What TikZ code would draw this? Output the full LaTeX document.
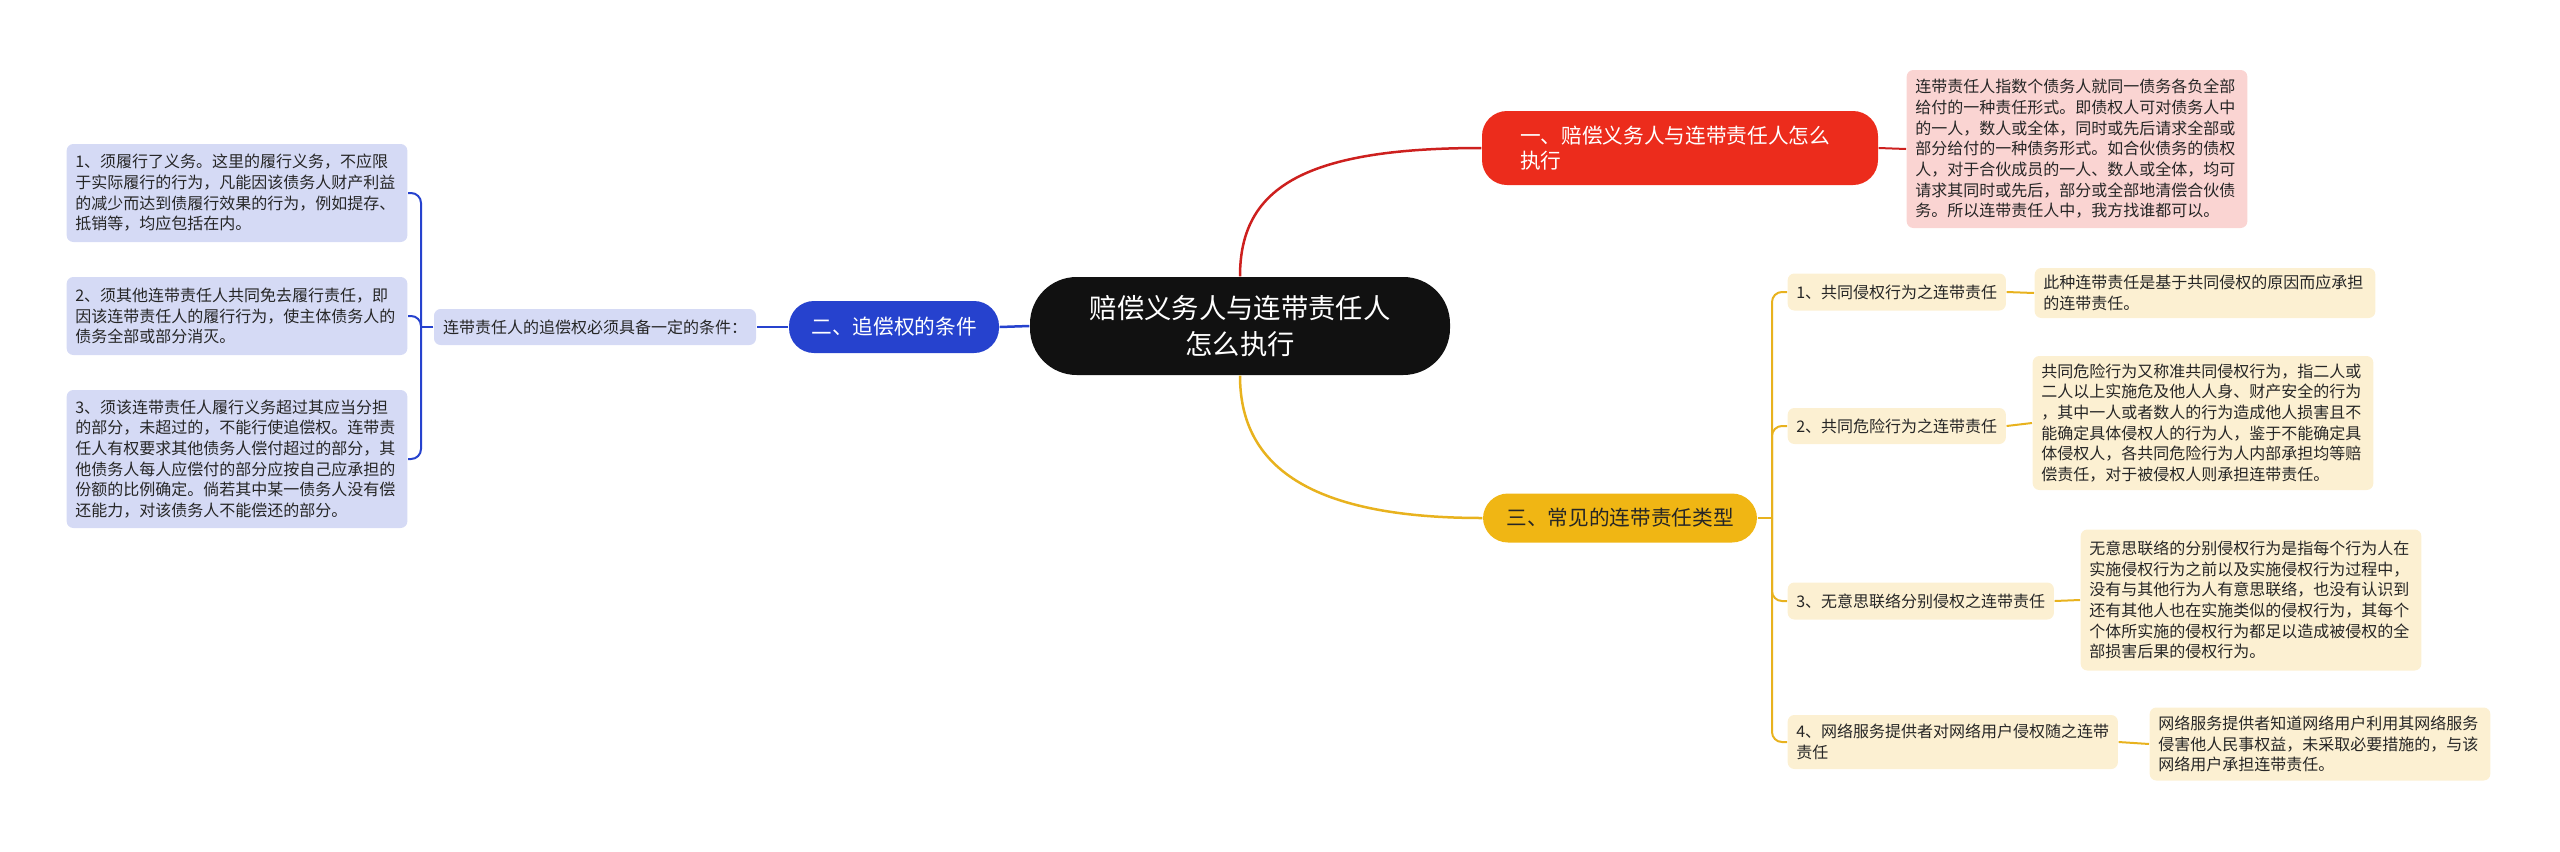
\documentclass[tikz,border=0pt]{standalone}
\usepackage{fontspec}
\newfontfamily\cjk{Noto Sans CJK SC}
\usetikzlibrary{positioning,calc}

\begin{document}
\begin{tikzpicture}[
    x=0.3pt, y=-0.3pt,
    font=\cjk,
    rootnode/.style={
        rectangle,
        rounded corners=14pt,
        fill=rootblack,
        text=white,
        align=center,
        minimum width=126pt,
        minimum height=29.4pt,
        font=\cjk\fontsize{8.2}{10.8}\selectfont
    },
    topic/.style={
        rectangle,
        rounded corners=7.5pt,
        fill=#1,
        text=white,
        align=left,
        inner xsep=0pt,
        font=\cjk\fontsize{6.2}{7.5}\selectfont
    },
    leaf/.style={
        rectangle,
        rounded corners=2pt,
        fill=#1,
        text=black!85,
        align=left,
        inner xsep=2.6pt,
        inner ysep=1.5pt,
        font=\cjk\fontsize{4.8}{6.2}\selectfont
    },
    detail/.style={
        leaf=#1,
        text width=97pt,
        minimum width=101.5pt
    },
    branch/.style={
        line width=0.75pt,
        draw=#1
    },
    twig/.style={
        line width=0.6pt,
        draw=#1,
        rounded corners=3pt
    }
]

\definecolor{rootblack}{RGB}{17,17,17}
\definecolor{lawred}{RGB}{236,44,28}
\definecolor{linered}{RGB}{205,32,30}
\definecolor{pinkfill}{RGB}{250,212,210}
\definecolor{lawblue}{RGB}{38,66,206}
\definecolor{lavfill}{RGB}{213,218,245}
\definecolor{lawyellow}{RGB}{240,182,20}
\definecolor{linegold}{RGB}{232,178,30}
\definecolor{creamfill}{RGB}{252,240,210}

\useasboundingbox (0,0) rectangle (2560,851);

% Root
\node[rootnode] (root) at (1240,326) {
赔偿义务人与连带责任人\\
怎么执行
};

% Part one: red
\node[topic=lawred, minimum width=118.8pt, minimum height=22.2pt, text width=96pt] (partone) at (1680,148) {
一、赔偿义务人与连带责任人怎么\\
执行
};
\node[detail=pinkfill, minimum height=47.4pt] (onetext) at (2077,149) {
连带责任人指数个债务人就同一债务各负全部\\
给付的一种责任形式。即债权人可对债务人中\\
的一人，数人或全体，同时或先后请求全部或\\
部分给付的一种债务形式。如合伙债务的债权\\
人，对于合伙成员的一人、数人或全体，均可\\
请求其同时或先后，部分或全部地清偿合伙债\\
务。所以连带责任人中，我方找谁都可以。
};

% Part two: blue
\node[topic=lawblue, align=center, minimum width=63pt, minimum height=15.6pt] (parttwo) at (894,327) {二、追偿权的条件};
\node[leaf=lavfill, minimum width=96.6pt, minimum height=10.8pt] (twohead) at (595,327) {连带责任人的追偿权必须具备一定的条件：};
\node[detail=lavfill, minimum height=29.4pt] (condone) at (237,193) {
1、须履行了义务。这里的履行义务，不应限\\
于实际履行的行为，凡能因该债务人财产利益\\
的减少而达到债履行效果的行为，例如提存、\\
抵销等，均应包括在内。
};
\node[detail=lavfill, minimum height=23.4pt] (condtwo) at (237,316) {
2、须其他连带责任人共同免去履行责任，即\\
因该连带责任人的履行行为，使主体债务人的\\
债务全部或部分消灭。
};
\node[detail=lavfill, minimum height=41.4pt] (condthree) at (237,459) {
3、须该连带责任人履行义务超过其应当分担\\
的部分，未超过的，不能行使追偿权。连带责\\
任人有权要求其他债务人偿付超过的部分，其\\
他债务人每人应偿付的部分应按自己应承担的\\
份额的比例确定。倘若其中某一债务人没有偿\\
还能力，对该债务人不能偿还的部分。
};

% Part three: yellow
\node[topic=lawyellow, text=black!85, align=center, minimum width=82.2pt, minimum height=14.7pt] (partthree) at (1620,518) {三、常见的连带责任类型};
\node[leaf=creamfill, anchor=west, minimum height=11.1pt] (typeone) at (1787,292) {1、共同侵权行为之连带责任};
\node[leaf=creamfill, anchor=west, minimum height=10.8pt] (typetwo) at (1787,426) {2、共同危险行为之连带责任};
\node[leaf=creamfill, anchor=west, minimum height=11.1pt] (typethree) at (1787,601) {3、无意思联络分别侵权之连带责任};
\node[leaf=creamfill, anchor=west, minimum height=16.2pt] (typefour) at (1787,742) {
4、网络服务提供者对网络用户侵权随之连带\\
责任
};
\node[detail=creamfill, minimum height=15pt] (textone) at (2205,293) {
此种连带责任是基于共同侵权的原因而应承担\\
的连带责任。
};
\node[detail=creamfill, minimum height=40.2pt] (texttwo) at (2203,423) {
共同危险行为又称准共同侵权行为，指二人或\\
二人以上实施危及他人人身、财产安全的行为\\
，其中一人或者数人的行为造成他人损害且不\\
能确定具体侵权人的行为人，鉴于不能确定具\\
体侵权人，各共同危险行为人内部承担均等赔\\
偿责任，对于被侵权人则承担连带责任。
};
\node[detail=creamfill, minimum height=42.3pt] (textthree) at (2251,600) {
无意思联络的分别侵权行为是指每个行为人在\\
实施侵权行为之前以及实施侵权行为过程中，\\
没有与其他行为人有意思联络，也没有认识到\\
还有其他人也在实施类似的侵权行为，其每个\\
个体所实施的侵权行为都足以造成被侵权的全\\
部损害后果的侵权行为。
};
\node[detail=creamfill, minimum height=21.9pt] (textfour) at (2320,744) {
网络服务提供者知道网络用户利用其网络服务\\
侵害他人民事权益，未采取必要措施的，与该\\
网络用户承担连带责任。
};

% Branches from the root
\draw[branch=linered] (root.north) .. controls (1240,190) and (1300,148) .. (partone.west);
\draw[branch=linegold] (root.south) .. controls (1240,460) and (1300,518) .. (partthree.west);
\draw[branch=lawblue] (root.west) -- (parttwo.east);

% Part one link
\draw[twig=linered] (partone.east) -- (onetext.west);

% Part two links
\coordinate (bluefork) at (421,327);
\draw[twig=lawblue] (parttwo.west) -- (twohead.east);
\draw[twig=lawblue] (twohead.west) -- (bluefork);
\draw[twig=lawblue] (bluefork) |- (condone.east);
\draw[twig=lawblue] (bluefork) |- (condtwo.east);
\draw[twig=lawblue] (bluefork) |- (condthree.east);

% Part three links
\coordinate (goldfork) at (1772,518);
\draw[twig=linegold] (partthree.east) -- (goldfork);
\draw[twig=linegold] (goldfork) |- (typeone.west);
\draw[twig=linegold] (goldfork) |- (typetwo.west);
\draw[twig=linegold] (goldfork) |- (typethree.west);
\draw[twig=linegold] (goldfork) |- (typefour.west);
\draw[twig=linegold] (typeone.east) -- (textone.west);
\draw[twig=linegold] (typetwo.east) -- (texttwo.west);
\draw[twig=linegold] (typethree.east) -- (textthree.west);
\draw[twig=linegold] (typefour.east) -- (textfour.west);

\end{tikzpicture}
\end{document}
